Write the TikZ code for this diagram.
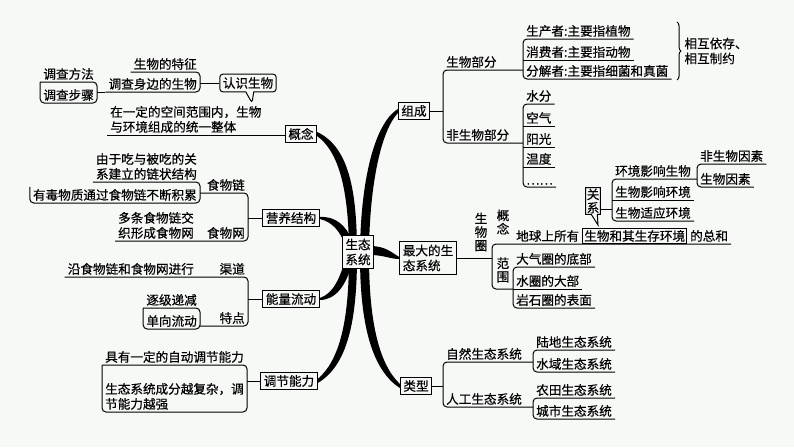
\documentclass[tikz,border=0pt]{standalone}
\usepackage{fontspec}
\setmainfont{Noto Sans CJK SC}[FakeBold=0.4]
\usetikzlibrary{calc,backgrounds,shapes.callouts,decorations.pathreplacing}
\definecolor{paper}{RGB}{246,249,246}
\tikzset{
  mind map/.style={x=1pt, y=-1pt, font=\fontsize{12.6}{15}\selectfont},
  box/.style={draw, line width=1pt, fill=paper, inner sep=3pt},
  leaf/.style={inner xsep=3pt, inner ysep=2pt, align=left},
  left leaf/.style={leaf, anchor=south east},
  right leaf/.style={leaf, anchor=south west},
  vtext/.style={align=center, inner sep=1pt, font=\fontsize{12.6}{13.5}\selectfont},
  link/.style={line width=1pt, rounded corners=4pt},
  trunk/.style={fill=black},
  round callout/.style={rectangle callout, draw, line width=1pt, fill=paper,
    rounded corners=3pt, inner sep=3pt, callout pointer width=8pt},
  square callout/.style={rectangle callout, draw, line width=1pt, fill=paper,
    inner sep=2pt, callout pointer width=6pt},
}

\begin{document}
\begin{tikzpicture}[mind map]
  \useasboundingbox (0,0) rectangle (794,447);

  \node [box, align=center] (eco) at (358,252) {生态\\系统};
  \node [box] (gainian) at (301,134) {概念};
  \node [box] (yingyang) at (291,218) {营养结构};
  \node [box] (nengliang) at (291,299) {能量流动};
  \node [box] (tiaojie) at (289,381) {调节能力};
  \node [box] (zucheng) at (414,111) {组成};
  \node [box, align=left] (zuida) at (428,258) {最大的生\\态系统};
  \node [box] (leixing) at (416,386) {类型};

  % left: concept
  \node [right leaf] (gnwz) at (107,135) {在一定的空间范围内，生物\\与环境组成的统一整体};
  \node [round callout, callout absolute pointer={(252,103)}] (rsw) at (248,83) {认识生物};
  \node [left leaf] (swtz) at (200,72) {生物的特征};
  \node [left leaf] (dcsb) at (200,92) {调查身边的生物};
  \node [left leaf] (dcff) at (97,82) {调查方法};
  \node [left leaf] (dcbz) at (97,103) {调查步骤};

  % left: food chains
  \node [left leaf] (swl) at (248,193) {食物链};
  \node [left leaf] (sww) at (248,241) {食物网};
  \node [left leaf] (ydsx) at (200,182) {由于吃与被吃的关\\系建立的链状结构};
  \node [left leaf] (ydwz) at (200,203) {有毒物质通过食物链不断积累};
  \node [left leaf] (dtsw) at (197,241) {多条食物链交\\织形成食物网};

  % left: energy flow
  \node [left leaf] (qd) at (248,277) {渠道};
  \node [left leaf] (td) at (248,326) {特点};
  \node [left leaf] (yszs) at (197,277) {沿食物链和食物网进行};
  \node [left leaf] (zjdj) at (200,308) {逐级递减};
  \node [left leaf] (dxld) at (200,329) {单向流动};

  % left: regulation
  \node [left leaf] (jyyd) at (247,365) {具有一定的自动调节能力};
  \node [left leaf] (stxt) at (247,412) {生态系统成分越复杂，调\\节能力越强};

  % right: composition
  \node [right leaf] (swbf) at (443,70) {生物部分};
  \node [right leaf] (fswbf) at (443,143) {非生物部分};
  \node [right leaf] (scz) at (523,39) {生产者:主要指植物};
  \node [right leaf] (xfz) at (523,60) {消费者:主要指动物};
  \node [right leaf] (fjz) at (523,79) {分解者:主要指细菌和真菌};
  \node [right leaf] (sf) at (523,104) {水分};
  \node [right leaf] (kq) at (523,126) {空气};
  \node [right leaf] (yg) at (523,147) {阳光};
  \node [right leaf] (wd) at (523,167) {温度};
  \node [right leaf] (qt) at (523,187) {……};
  \node [right, align=left] (xhyc) at (681,51) {相互依存、\\相互制约};
  \draw [decorate, decoration={brace, amplitude=4pt}, line width=1pt] (677,22) -- (677,80);

  % right: biosphere
  \coordinate (swqbr) at (492,258);
  \node [vtext] (swq) at (481,232) {生\\物\\圈};
  \node [vtext] (gn) at (503,222) {概\\念};
  \node [vtext] (fw) at (503,270) {范\\围};
  \node [right leaf] (dqsy) at (513,244) {地球上所有};
  \node [draw, line width=0.8pt, inner sep=1.5pt, anchor=base west] (hj) at (dqsy.base east) {生物和其生存环境};
  \node [inner xsep=3pt, anchor=base west] (zh) at (hj.base east) {的总和};
  \node [right leaf] (dqq) at (513,267) {大气圈的底部};
  \node [right leaf] (sq) at (513,289) {水圈的大部};
  \node [right leaf] (ysq) at (513,308) {岩石圈的表面};
  \node [square callout, vtext, draw, callout absolute pointer={(598,225)}] (gx) at (593,201) {关\\系};
  \node [right leaf] (hjyx) at (612,179) {环境影响生物};
  \node [right leaf] (swyx) at (612,200) {生物影响环境};
  \node [right leaf] (swsy) at (612,221) {生物适应环境};
  \node [right leaf] (fswys) at (697,164) {非生物因素};
  \node [right leaf] (swys) at (697,187) {生物因素};

  % right: types
  \node [right leaf] (zrst) at (443,362) {自然生态系统};
  \node [right leaf] (rgst) at (443,407) {人工生态系统};
  \node [right leaf] (ldst) at (533,350) {陆地生态系统};
  \node [right leaf] (syst) at (533,372) {水域生态系统};
  \node [right leaf] (ntst) at (533,398) {农田生态系统};
  \node [right leaf] (csst) at (533,419) {城市生态系统};

  % connectors
  \draw [link] (gnwz.south west) -- (gnwz.south west -| gainian.west);
  \draw [link] (rsw.west) -- (rsw.west -| swtz.south east);
  \draw [link] (swtz.south west) -- (swtz.south east) |- (dcsb.south west);
  \draw [link] (dcsb.south west) -- (dcsb.south west -| dcff.south east);
  \draw [link] (dcff.south west) -- (dcff.south east) |- (dcbz.south west) -- (dcbz.south west |- dcff.south);

  \draw [link] (yingyang.west) -- (yingyang.west -| swl.south east);
  \draw [link] (ydsx.south east |- swl.south) -- (swl.south east) |- (dtsw.south west);
  \draw [link] (ydsx.south west) -- (ydsx.south east) |- (ydwz.south west) -- (ydwz.north west);

  \draw [link] (nengliang.west) -- (nengliang.west -| qd.south east);
  \draw [link] (yszs.south west) -- (qd.south east) |- (zjdj.south east |- td.south);
  \draw [link] (zjdj.south west) -- (zjdj.south east) |- (dxld.south west) -- (dxld.south west |- zjdj.south);

  \draw [link] (tiaojie.west) -- (tiaojie.west -| jyyd.south east);
  \draw [link] (jyyd.south west) -- (jyyd.south east) |- (stxt.south west) -- (stxt.south west |- jyyd.south);

  \draw [link] (zucheng.east) -- (zucheng.east -| swbf.south west);
  \draw [link] (scz.south west |- swbf.south) -- (swbf.south west) |- (fswbf.south west -| sf.south west);
  \draw [link] (scz.south east) -- (scz.south west) |- (fjz.south east);
  \draw [link] (xfz.south west) -- (xfz.south east);
  \draw [link] (sf.south east) -- (sf.south west) |- (qt.south east);
  \foreach \n in {kq,yg,wd}
    \draw [link] (\n.south west) -- (\n.south east);

  \draw [link] (zuida.east) -- (swqbr);
  \draw [link] (zh.south east |- dqsy.south) -- (swqbr |- dqsy.south) |- (sq.south west);
  \draw [link] (dqq.south east) -- (dqq.south west) |- (ysq.south east);
  \draw [link] (sq.south west) -- (sq.south east);
  \coordinate (gxout) at ($(gx.south east)+(0,-5)$);
  \draw [link] (gxout) -- (gxout -| hjyx.south west);
  \draw [link] (hjyx.south -| fswys.south west) -- (hjyx.south west) |- (swsy.south east);
  \draw [link] (swyx.south west) -- (swyx.south east);
  \draw [link] (fswys.south east) -- (fswys.south west) |- (swys.south east);

  \draw [link] (leixing.east) -- (leixing.east -| zrst.south west);
  \draw [link] (ldst.south west |- zrst.south) -- (zrst.south west) |- (rgst.south -| ntst.south west);
  \draw [link] (ldst.south east) -- (ldst.south west) |- (syst.south east);
  \draw [link] (ntst.south east) -- (ntst.south west) |- (csst.south east);

  \begin{scope}[on background layer]
    \fill [paper] (0,0) rectangle (794,447);
    \fill [trunk] ($(gainian.east)+(0,-2)$) .. controls (352,148) and (357,200) .. (357,256)
      .. controls (357,322) and (347,366) .. ($(tiaojie.east)+(0,2)$)
      -- ($(tiaojie.east)+(0,-2)$) .. controls (340,360) and (349,320) .. (349,256)
      .. controls (349,200) and (342,154) .. ($(gainian.east)+(0,2)$) -- cycle;
    \fill [trunk] ($(zucheng.west)+(0,-2)$) .. controls (372,125) and (360,190) .. (360,256)
      .. controls (360,325) and (372,370) .. ($(leixing.west)+(0,2)$)
      -- ($(leixing.west)+(0,-2)$) .. controls (380,365) and (369,325) .. (369,256)
      .. controls (369,190) and (380,132) .. ($(zucheng.west)+(0,2)$) -- cycle;
    \fill [trunk] ($(yingyang.east)+(0,-1)$) .. controls (336,216) and (346,226) .. (352,240)
      -- (345,244) .. controls (340,232) and (333,222) .. ($(yingyang.east)+(0,1)$) -- cycle;
    \fill [trunk] ($(nengliang.east)+(0,1)$) .. controls (336,300) and (346,285) .. (352,264)
      -- (345,260) .. controls (340,278) and (333,294) .. ($(nengliang.east)+(0,-1)$) -- cycle;
    \fill [trunk] (370,246) .. controls (386,246) and (392,253) .. ($(zuida.west)+(0,-1)$)
      -- ($(zuida.west)+(0,1)$) .. controls (390,259) and (384,255) .. (370,255) -- cycle;
  \end{scope}
\end{tikzpicture}
\end{document}
